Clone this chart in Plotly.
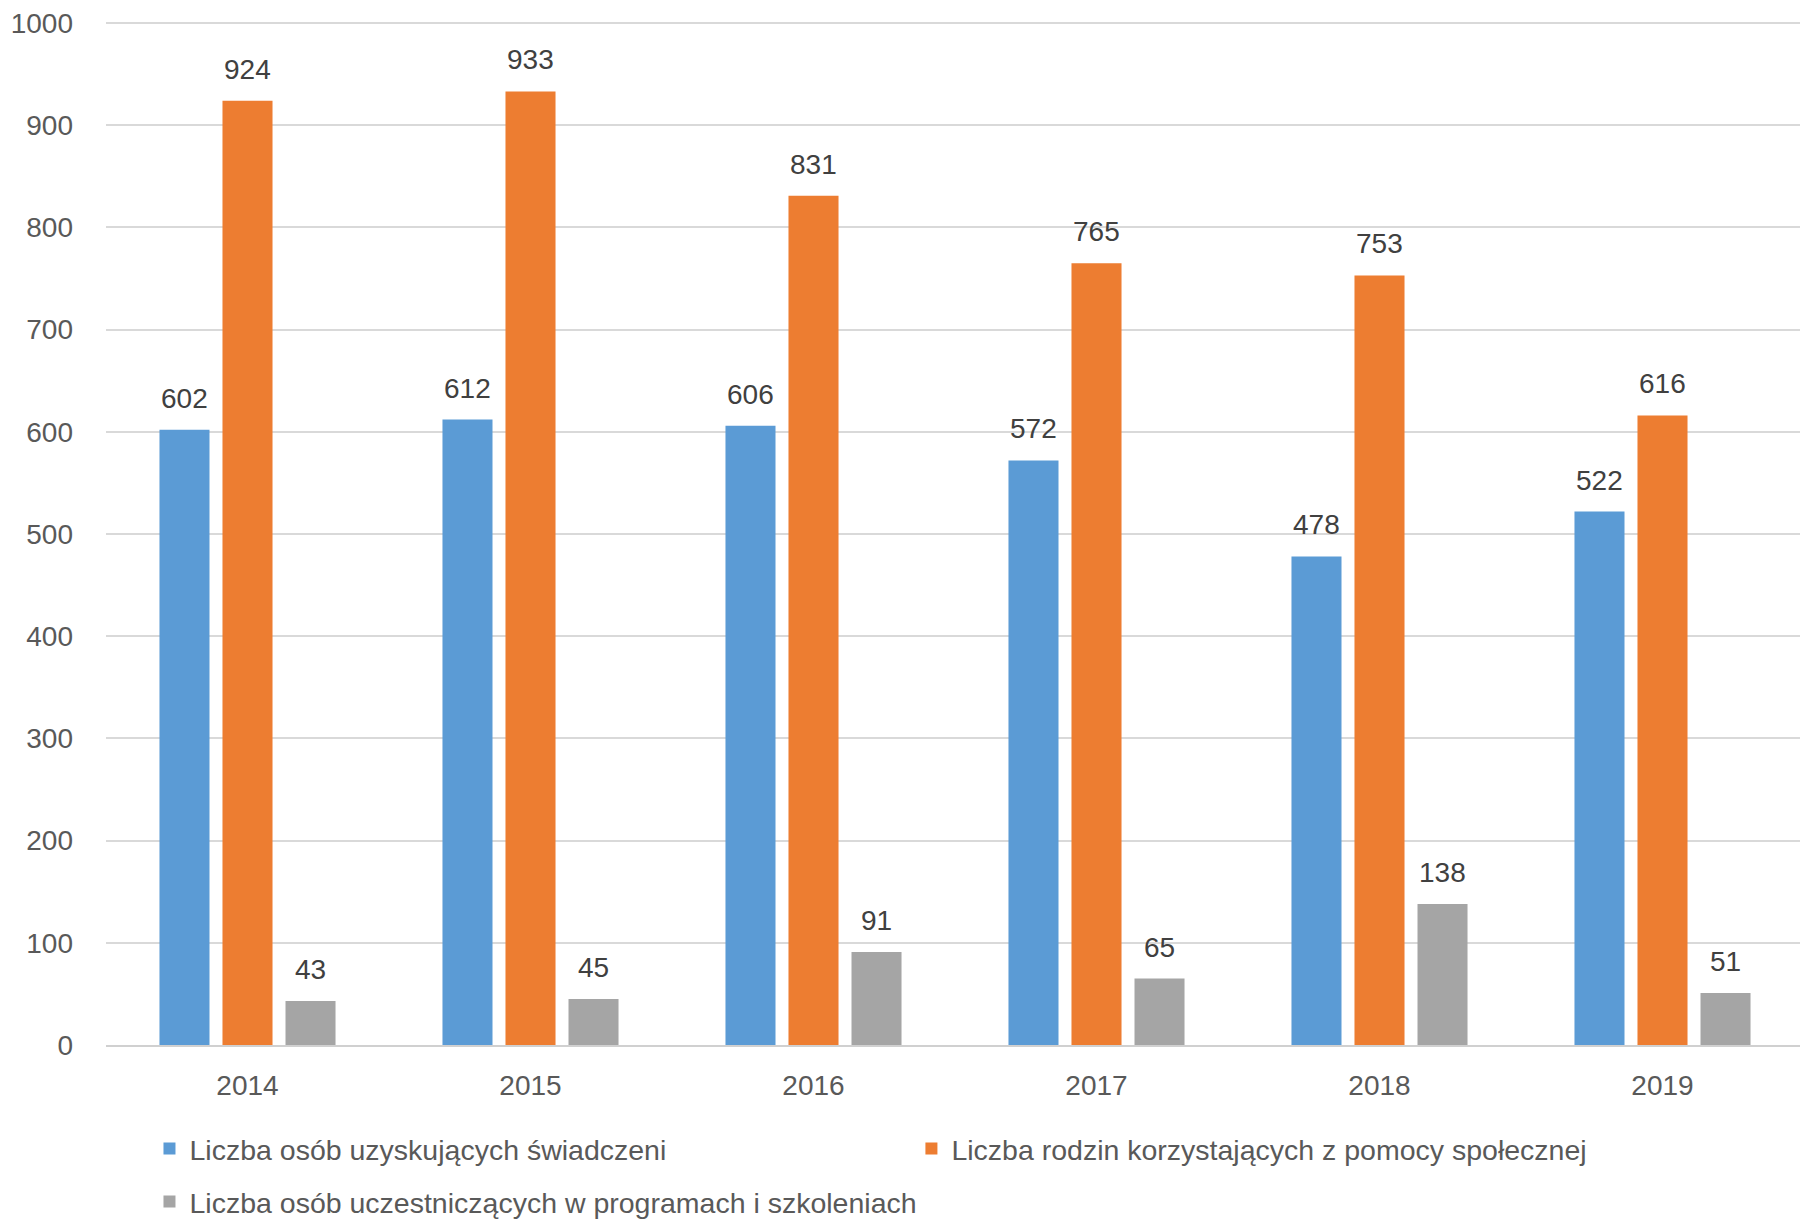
import plotly.graph_objects as go

years = ["2014", "2015", "2016", "2017", "2018", "2019"]
series_names = [
    "Liczba osób uzyskujących świadczeni",
    "Liczba rodzin korzystających z pomocy społecznej",
    "Liczba osób uczestniczących w programach i szkoleniach",
]
osoby_swiadczenia = [602, 612, 606, 572, 478, 522]
rodziny_pomoc = [924, 933, 831, 765, 753, 616]
osoby_programy = [43, 45, 91, 65, 138, 51]
y_ticks = [0, 100, 200, 300, 400, 500, 600, 700, 800, 900, 1000]

colors = ["#5B9BD5", "#ED7D31", "#A5A5A5"]
series = [osoby_swiadczenia, rodziny_pomoc, osoby_programy]
legend_ids = ["legend", "legend2", "legend3"]
FONT = "Liberation Sans"

W, H = 1800, 1211  # page has an 8px body margin

fig = go.Figure()
for name, vals, col, lg in zip(series_names, series, colors, legend_ids):
    fig.add_trace(go.Bar(x=years, y=vals, name=name, marker_color=col,
                         marker_line_width=0, hoverinfo="skip", legend=lg))

annotations = []
shifts = [-63, 0, 63]
for vals, sh in zip(series, shifts):
    for i, v in enumerate(vals):
        annotations.append(dict(x=i, y=v, xref="x", yref="y", text=str(v),
                                showarrow=False, xshift=sh, yshift=14,
                                yanchor="bottom",
                                font=dict(family=FONT, size=28, color="#404040")))

leg_font = dict(family=FONT, size=28.5, color="#595959")
def leg(x, y):
    return dict(orientation="h", xref="container", yref="container",
                x=x, y=y, xanchor="left", yanchor="middle",
                font=leg_font, itemclick=False, bgcolor="rgba(0,0,0,0)")

fig.update_layout(
    width=W, height=H,
    margin=dict(l=98, r=4, t=14, b=174, autoexpand=False),
    paper_bgcolor="white", plot_bgcolor="white",
    barmode="group", bargap=0.332, bargroupgap=0.206,
    font=dict(family=FONT, size=28, color="#595959"),
    annotations=annotations,
    showlegend=True,
    legend=leg(0.0786, 1 - 1141 / H),
    legend2=leg(0.5019, 1 - 1141 / H),
    legend3=leg(0.0786, 1 - 1194 / H),
)
fig.update_yaxes(range=[0, 1001], tickvals=y_ticks, showgrid=True,
                 gridcolor="#D9D9D9", gridwidth=2, zeroline=False,
                 showline=False, ticks="", ticklabelstandoff=32,
                 ticklabeloverflow="allow", automargin=False,
                 tickfont=dict(family=FONT, size=28, color="#595959"))
fig.update_xaxes(type="category", range=[-0.5, 5.5], showline=True,
                 linecolor="#D0D0D0", linewidth=2, ticks="",
                 ticklabelstandoff=14, automargin=False,
                 tickfont=dict(family=FONT, size=28, color="#595959"))

fig.write_html("out.html")
